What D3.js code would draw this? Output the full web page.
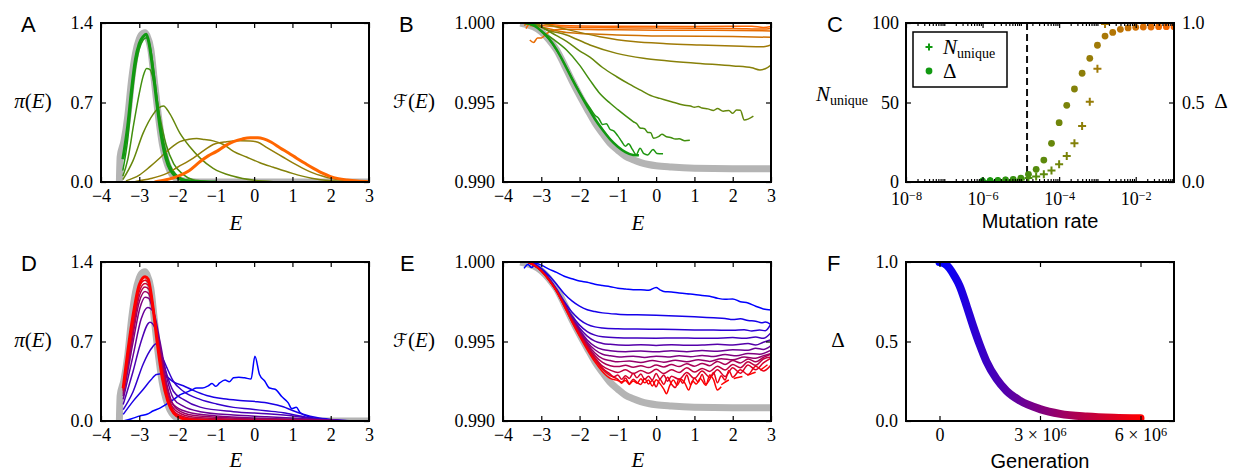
<!DOCTYPE html>
<html><head><meta charset="utf-8">
<script src="https://cdn.jsdelivr.net/npm/d3@7"></script>
<style>body{margin:0;background:#fff;}svg{display:block;}</style>
</head><body>
<svg id="fig" width="1233" height="472"></svg>
<script>
// ---------------- DATA ----------------
const energyTicks = [-4,-3,-2,-1,0,1,2,3];
const piTicks = [0.0,0.7,1.4];
const fitTicks = [0.990,0.995,1.000];
const nUniqueTicks = [0,50,100];
const deltaTicks = [0.0,0.5,1.0];
const muMajorTicks = [1e-8,1e-6,1e-4,1e-2];
const genTicks = [0,3e6,6e6];

// Panel A: pi(E) for increasing mutation rate
const piTheory = [[-3.52,0],[-3.5,0.22],[-3.4,0.36],[-3.3,0.58],[-3.2,0.9],[-3.1,1.13],[-3.0,1.26],[-2.9,1.31],[-2.85,1.315],[-2.8,1.29],[-2.7,1.17],[-2.6,0.87],[-2.5,0.58],[-2.4,0.34],[-2.3,0.19],[-2.2,0.1],[-2.1,0.05],[-2.0,0.025],[-1.8,0.006],[-1.5,0.001],[-1.0,0],[3.0,0]];
const piMutLow = [[-3.43,0.2],[-3.3,0.5],[-3.2,0.82],[-3.1,1.08],[-3.0,1.22],[-2.9,1.28],[-2.82,1.3],[-2.75,1.23],[-2.65,1.0],[-2.55,0.72],[-2.45,0.46],[-2.35,0.27],[-2.25,0.15],[-2.1,0.065],[-1.95,0.028],[-1.7,0.008],[-1.4,0.002],[-1.0,0]];
const piMut1 = [[-3.43,0.1],[-3.3,0.38],[-3.2,0.72],[-3.1,1.0],[-3.0,1.17],[-2.9,1.25],[-2.82,1.27],[-2.72,1.2],[-2.6,0.92],[-2.5,0.64],[-2.4,0.42],[-2.3,0.26],[-2.2,0.15],[-2.05,0.07],[-1.8,0.02],[-1.5,0.005],[-1.0,0]];
const piMut2 = [[-3.43,0.05],[-3.3,0.2],[-3.15,0.5],[-3.0,0.78],[-2.9,0.93],[-2.81,1.0],[-2.72,0.99],[-2.6,0.85],[-2.46,0.57],[-2.3,0.33],[-2.1,0.16],[-1.85,0.065],[-1.6,0.02],[-1.2,0.005],[-0.8,0]];
const piMut3 = [[-3.43,0.02],[-3.16,0.19],[-2.9,0.43],[-2.63,0.6],[-2.5,0.65],[-2.37,0.67],[-2.2,0.6],[-1.94,0.43],[-1.68,0.31],[-1.41,0.21],[-1.07,0.12],[-0.54,0.05],[0,0.015],[0.5,0.003],[1,0]];
const piMut4 = [[-3.35,0.01],[-3.0,0.06],[-2.72,0.135],[-2.5,0.2],[-2.28,0.27],[-2.1,0.32],[-1.94,0.355],[-1.7,0.376],[-1.5,0.382],[-1.3,0.374],[-1.07,0.362],[-0.8,0.33],[-0.54,0.27],[-0.2,0.22],[0.15,0.17],[0.5,0.13],[1.0,0.076],[1.5,0.033],[2.0,0.01],[2.5,0.002],[3,0]];
const piMut5 = [[-3.1,0.005],[-2.7,0.03],[-2.28,0.076],[-2.0,0.13],[-1.59,0.21],[-1.3,0.28],[-1.07,0.33],[-0.72,0.355],[-0.37,0.364],[-0.1,0.362],[0.1,0.35],[0.3,0.31],[0.5,0.27],[0.75,0.22],[1.0,0.17],[1.25,0.125],[1.5,0.085],[1.8,0.05],[2.0,0.032],[2.4,0.012],[3.0,0.001]];
const piMutHigh = [[-2.6,0.0],[-2.3,0.02],[-2.0,0.05],[-1.7,0.1],[-1.41,0.18],[-1.2,0.23],[-0.98,0.27],[-0.75,0.32],[-0.54,0.355],[-0.3,0.38],[-0.1,0.39],[0.1,0.39],[0.25,0.38],[0.45,0.35],[0.68,0.3],[0.9,0.255],[1.11,0.21],[1.35,0.16],[1.55,0.12],[1.8,0.075],[1.98,0.05],[2.2,0.03],[2.42,0.018],[2.7,0.008],[3.0,0.003]];

// Panel B: F(E) for increasing mutation rate
const fitTheory = [[-3.55,1.0],[-3.4,0.99992],[-3.2,0.99975],[-3.0,0.99945],[-2.8,0.99895],[-2.6,0.9983],[-2.4,0.99737],[-2.2,0.99638],[-2.0,0.99545],[-1.8,0.99458],[-1.6,0.99374],[-1.4,0.99305],[-1.2,0.99243],[-1.0,0.992],[-0.8,0.99162],[-0.6,0.9914],[-0.4,0.99122],[-0.2,0.9911],[0,0.99102],[0.4,0.99094],[1.0,0.99087],[2.0,0.99084],[3.0,0.99084]];
const fitMutLow = [[-3.43,1.0],[-3.2,0.99985],[-3.0,0.9995],[-2.8,0.99902],[-2.6,0.99832],[-2.4,0.99745],[-2.2,0.9965],[-2.0,0.9956],[-1.8,0.99476],[-1.6,0.99396],[-1.4,0.99328],[-1.2,0.99268],[-1.0,0.99222],[-0.8,0.99188],[-0.6,0.9917],[-0.45,0.99168]];
const fitMut1 = [[-3.3,1.0],[-3.1,0.9997],[-2.9,0.99925],[-2.7,0.99865],[-2.5,0.9979],[-2.3,0.997],[-2.1,0.9961],[-1.9,0.99525],[-1.7,0.99455],[-1.6,0.9942],[-1.5,0.994],[-1.4,0.99362],[-1.3,0.99366],[-1.2,0.9933],[-1.1,0.9932],[-1.0,0.9929],[-0.9,0.99255],[-0.8,0.99225],[-0.72,0.9924],[-0.62,0.99205],[-0.52,0.99172],[-0.42,0.99212],[-0.32,0.99178],[-0.22,0.9917],[-0.08,0.99205],[0.02,0.9918],[0.18,0.99178]];
const fitMut2 = [[-3.2,1.0],[-3.03,0.99956],[-2.7,0.999],[-2.34,0.9983],[-2.0,0.99735],[-1.73,0.99641],[-1.5,0.99565],[-1.2,0.99495],[-1.0,0.99455],[-0.77,0.99411],[-0.6,0.9938],[-0.5,0.99365],[-0.42,0.9934],[-0.3,0.99335],[-0.22,0.99312],[-0.14,0.9931],[-0.07,0.99275],[0.06,0.99285],[0.15,0.993],[0.27,0.99285],[0.4,0.99278],[0.5,0.9927],[0.6,0.99272],[0.75,0.9926],[0.88,0.99262]];
const fitMut3 = [[-3.2,1.0],[-3.0,0.99975],[-2.6,0.9992],[-2.34,0.99885],[-2.0,0.99825],[-1.73,0.99785],[-1.4,0.9972],[-1.03,0.99662],[-0.7,0.99615],[-0.42,0.99579],[-0.1,0.9954],[0.1,0.99526],[0.4,0.99505],[0.71,0.99484],[0.9,0.99478],[1.0,0.9947],[1.1,0.99475],[1.2,0.99465],[1.35,0.9946],[1.5,0.9945],[1.6,0.99462],[1.75,0.99445],[1.9,0.9945],[2.0,0.99432],[2.1,0.99453],[2.2,0.99452],[2.3,0.9939],[2.54,0.99415]];
const fitMut4 = [[-3.1,1.0],[-2.95,0.9997],[-2.34,0.99925],[-1.73,0.99862],[-1.03,0.99809],[-0.33,0.99778],[0.27,0.99763],[1.15,0.99746],[2.02,0.9973],[2.5,0.99718],[2.71,0.99705],[2.85,0.99712],[3.0,0.99736]];
const fitMut5 = [[-3.0,1.0],[-2.34,0.9996],[-1.47,0.99914],[-0.6,0.99883],[0.27,0.9987],[1.15,0.99862],[2.02,0.99855],[2.7,0.9985],[2.85,0.99852],[3.0,0.99862]];
const fitMut6 = [[-3.3,0.99985],[-3.0,0.99975],[-2.34,0.9994],[-1.03,0.99925],[0.27,0.99918],[2.0,0.99915],[3.0,0.9991]];
const fitMut7 = [[-3.3,0.99893],[-3.2,0.99878],[-3.1,0.99905],[-3.0,0.99905],[-2.9,0.99925],[-2.75,0.9995],[-2.5,0.9996],[-1.5,0.99958],[0,0.99955],[1.5,0.99954],[3.0,0.9995]];
const fitMut8 = [[-3.45,0.99985],[-3.3,1.0],[-3.0,0.99985],[-2.0,0.99972],[0,0.99968],[2.0,0.99966],[2.8,0.99962],[3.0,0.99966]];
const fitMutHigh = [[-3.4,0.99965],[-3.3,0.99995],[-3.15,1.0],[-2.5,0.99985],[-1.0,0.9998],[1.0,0.99978],[2.5,0.9998],[2.8,0.99972],[3.0,0.99978]];

// Panel C: vs mutation rate
const mutationRate = [1e-6,1.58e-6,2.51e-6,3.98e-6,6.31e-6,1e-5,1.58e-5,2.51e-5,3.98e-5,6.31e-5,1e-4,1.58e-4,2.51e-4,3.98e-4,6.31e-4,1e-3,1.58e-3,2.51e-3,3.98e-3,6.31e-3,1e-2,1.58e-2,2.51e-2,3.98e-2,6.31e-2,1e-1];
const deltaVsMu = [0.006,0.008,0.0105,0.0126,0.017,0.025,0.048,0.08,0.138,0.243,0.373,0.482,0.585,0.684,0.778,0.86,0.918,0.941,0.96,0.969,0.973,0.975,0.975,0.977,0.977,0.977];
const nUniqueVsMu = [0.4,0.4,0.6,0.8,1.0,1.5,2.5,3.4,4.8,7.3,11.1,16.4,24.3,35.2,50.5,71.3,99.4];
const muThreshold = 1.45e-5;

// Panel D: pi(E) over generations
const piGen0 = [[-3.42,0.0],[-3.2,0.02],[-2.98,0.045],[-2.8,0.06],[-2.63,0.09],[-2.45,0.115],[-2.28,0.15],[-2.1,0.19],[-1.94,0.23],[-1.8,0.25],[-1.65,0.27],[-1.5,0.29],[-1.35,0.29],[-1.2,0.31],[-1.1,0.33],[-1.0,0.305],[-0.9,0.335],[-0.76,0.36],[-0.65,0.345],[-0.54,0.38],[-0.4,0.385],[-0.25,0.38],[-0.08,0.37],[0.02,0.57],[0.14,0.41],[0.28,0.35],[0.4,0.29],[0.55,0.28],[0.72,0.215],[0.89,0.16],[0.98,0.11],[1.1,0.12],[1.2,0.075],[1.45,0.035],[1.8,0.012],[2.3,0.0]];
const piGen1 = [[-3.42,0.058],[-3.16,0.175],[-2.9,0.277],[-2.7,0.36],[-2.55,0.41],[-2.4,0.415],[-2.28,0.39],[-2.11,0.345],[-1.85,0.31],[-1.59,0.27],[-1.24,0.225],[-0.8,0.195],[-0.37,0.18],[0.07,0.17],[0.41,0.155],[0.76,0.125],[1.02,0.09],[1.28,0.06],[1.63,0.03],[2.07,0.012],[2.6,0.0]];
const piGen2 = [[-3.42,0.1],[-3.16,0.26],[-2.9,0.5],[-2.68,0.64],[-2.56,0.68],[-2.46,0.61],[-2.28,0.47],[-2.11,0.35],[-1.85,0.262],[-1.41,0.19],[-0.98,0.15],[-0.54,0.12],[-0.1,0.105],[0.3,0.09],[0.76,0.073],[1.2,0.044],[1.6,0.02],[2.2,0.006],[2.9,0.0]];
const piGen3 = [[-3.42,0.146],[-3.16,0.44],[-2.98,0.67],[-2.72,0.87],[-2.59,0.82],[-2.46,0.64],[-2.28,0.41],[-2.11,0.262],[-1.85,0.19],[-1.41,0.122],[-0.54,0.082],[0.33,0.064],[1.02,0.044],[1.63,0.015],[2.5,0.0]];
const piGen4 = [[-3.42,0.19],[-3.16,0.58],[-2.95,0.9],[-2.78,1.0],[-2.63,0.96],[-2.46,0.7],[-2.28,0.38],[-2.11,0.2],[-1.85,0.13],[-1.41,0.082],[-0.54,0.052],[0.33,0.038],[1.2,0.023],[2.07,0.006],[2.9,0.0]];
const piGen5 = [[-3.42,0.22],[-3.16,0.7],[-2.98,1.0],[-2.85,1.09],[-2.75,1.08],[-2.63,0.95],[-2.46,0.66],[-2.28,0.32],[-2.11,0.146],[-1.76,0.082],[-0.98,0.044],[0.33,0.023],[1.63,0.009],[2.5,0.0]];
const piGen6 = [[-3.42,0.24],[-3.2,0.68],[-3.0,1.05],[-2.85,1.14],[-2.75,1.12],[-2.63,0.95],[-2.5,0.7],[-2.35,0.42],[-2.2,0.2],[-2.0,0.1],[-1.6,0.05],[-0.5,0.025],[1.0,0.012],[2.2,0.003]];
const piGen7 = [[-3.42,0.26],[-3.2,0.72],[-3.0,1.1],[-2.85,1.18],[-2.75,1.16],[-2.63,0.97],[-2.5,0.68],[-2.35,0.38],[-2.2,0.17],[-2.0,0.08],[-1.6,0.035],[-0.5,0.015],[1.0,0.008],[2.0,0.002]];
const piGen8 = [[-3.42,0.27],[-3.2,0.76],[-3.0,1.14],[-2.85,1.21],[-2.75,1.19],[-2.63,0.98],[-2.5,0.66],[-2.35,0.35],[-2.2,0.15],[-2.0,0.06],[-1.6,0.022],[-0.5,0.008],[1.0,0.004]];
const piGen9 = [[-3.42,0.28],[-3.2,0.8],[-3.0,1.18],[-2.85,1.24],[-2.75,1.21],[-2.63,0.99],[-2.5,0.64],[-2.35,0.32],[-2.2,0.13],[-2.0,0.045],[-1.6,0.012],[-0.5,0.004]];
const piGen10 = [[-3.42,0.29],[-3.2,0.85],[-3.0,1.2],[-2.85,1.27],[-2.77,1.25],[-2.65,1.02],[-2.52,0.66],[-2.4,0.38],[-2.25,0.17],[-2.1,0.07],[-1.9,0.025],[-1.6,0.006],[-1.2,0.0]];

// Panel E: F(E) over generations
const fitGen0 = [[-3.45,0.9996],[-3.35,0.99985],[-3.25,0.99965],[-3.15,0.99992],[-3.0,0.9998],[-2.8,0.99955],[-2.6,0.99935],[-2.4,0.9991],[-2.2,0.99895],[-2.0,0.9988],[-1.8,0.99872],[-1.6,0.9986],[-1.4,0.99852],[-1.2,0.99845],[-1.0,0.99835],[-0.8,0.9983],[-0.6,0.99825],[-0.4,0.99826],[-0.2,0.99822],[0.0,0.9984],[0.1,0.99825],[0.2,0.99815],[0.4,0.99812],[0.6,0.99805],[0.8,0.998],[1.0,0.99796],[1.2,0.9979],[1.4,0.99785],[1.6,0.99772],[1.8,0.99765],[2.0,0.99768],[2.2,0.9975],[2.4,0.99742],[2.6,0.99722],[2.8,0.99705],[3.0,0.99698]];
const fitGen1 = [[-3.2,0.99995],[-3.0,0.9996],[-2.8,0.99915],[-2.6,0.9986],[-2.4,0.998],[-2.2,0.99755],[-2.0,0.99722],[-1.8,0.997],[-1.6,0.99688],[-1.4,0.9968],[-1.0,0.99672],[-0.5,0.99668],[0,0.99665],[0.5,0.99661],[1.0,0.99656],[1.5,0.99649],[1.8,0.99645],[2.0,0.99638],[2.2,0.99643],[2.4,0.99632],[2.6,0.99628],[2.75,0.99618],[2.85,0.99622],[3.0,0.99606]];
const fitGen2 = [[-3.3,1.0],[-3.0,0.99955],[-2.8,0.999],[-2.6,0.9983],[-2.4,0.99752],[-2.2,0.99685],[-2.0,0.99638],[-1.8,0.99608],[-1.6,0.99592],[-1.4,0.99585],[-1.0,0.9958],[-0.5,0.99578],[0,0.99577],[0.5,0.99576],[1.0,0.99573],[1.5,0.99572],[2.0,0.9957],[2.3,0.99574],[2.5,0.99566],[2.7,0.99572],[2.85,0.99568],[3.0,0.99612]];
const fitGen3 = [[-3.3,1.0],[-3.0,0.9995],[-2.8,0.99895],[-2.6,0.99822],[-2.4,0.9974],[-2.2,0.99662],[-2.0,0.99603],[-1.8,0.99562],[-1.6,0.9954],[-1.4,0.9953],[-1.0,0.99524],[-0.5,0.99522],[0,0.99521],[0.5,0.99522],[1.0,0.99521],[1.5,0.9952],[2.0,0.99525],[2.3,0.9952],[2.6,0.99528],[2.8,0.9952],[3.0,0.99555]];
const fitGen4 = [[-3.35,1.0],[-3.0,0.99948],[-2.8,0.99893],[-2.6,0.99822],[-2.4,0.99738],[-2.2,0.99652],[-2.0,0.99585],[-1.8,0.99534],[-1.6,0.99502],[-1.4,0.99488],[-1.2,0.99482],[-0.8,0.99476],[-0.4,0.9948],[0,0.99475],[0.4,0.9948],[0.8,0.99476],[1.2,0.99478],[1.6,0.99482],[2.0,0.99478],[2.4,0.99488],[2.6,0.99478],[2.8,0.99495],[3.0,0.99512]];
const fitGen5 = [[-3.35,1.0],[-3.0,0.99947],[-2.8,0.99892],[-2.6,0.99822],[-2.4,0.99736],[-2.2,0.99648],[-2.0,0.99572],[-1.8,0.9951],[-1.6,0.9947],[-1.4,0.9945],[-1.2,0.99442],[-0.8,0.99436],[-0.4,0.9944],[0,0.99435],[0.4,0.99442],[0.8,0.99436],[1.2,0.99443],[1.6,0.99438],[2.0,0.99448],[2.4,0.99445],[2.6,0.99458],[2.8,0.9945],[3.0,0.99475]];
const fitGen6 = [[-3.35,1.0],[-3.0,0.99946],[-2.8,0.99891],[-2.6,0.99821],[-2.4,0.99734],[-2.2,0.99644],[-2.0,0.99565],[-1.8,0.99495],[-1.6,0.99448],[-1.4,0.9942],[-1.2,0.9941],[-0.9,0.99402],[-0.6,0.99408],[-0.3,0.994],[0,0.99408],[0.3,0.99402],[0.6,0.9941],[0.9,0.99404],[1.2,0.99412],[1.5,0.99405],[1.8,0.99418],[2.1,0.9941],[2.4,0.99425],[2.7,0.9942],[3.0,0.99445]];
const fitGen7 = [[-3.35,1.0],[-3.0,0.99946],[-2.8,0.9989],[-2.6,0.9982],[-2.4,0.99732],[-2.2,0.9964],[-2.0,0.99558],[-1.8,0.99485],[-1.6,0.99428],[-1.4,0.99392],[-1.2,0.9938],[-1.0,0.99372],[-0.7,0.99378],[-0.4,0.99368],[-0.1,0.9938],[0.2,0.9937],[0.5,0.99382],[0.8,0.99372],[1.1,0.99385],[1.4,0.99375],[1.7,0.99392],[2.0,0.99385],[2.3,0.99402],[2.6,0.99395],[2.8,0.9941],[3.0,0.99425]];
const fitGen8 = [[-3.35,1.0],[-3.0,0.99945],[-2.8,0.99889],[-2.6,0.99819],[-2.4,0.9973],[-2.2,0.99636],[-2.0,0.99552],[-1.8,0.99475],[-1.6,0.99412],[-1.4,0.99368],[-1.2,0.99348],[-1.0,0.99342],[-0.8,0.9935],[-0.6,0.99338],[-0.4,0.99348],[-0.2,0.99336],[0,0.99352],[0.2,0.9934],[0.4,0.99355],[0.6,0.99342],[0.8,0.9936],[1.0,0.99345],[1.2,0.99362],[1.4,0.99348],[1.6,0.99375],[1.8,0.99355],[2.0,0.9938],[2.2,0.99365],[2.4,0.9939],[2.6,0.99372],[2.8,0.994],[3.0,0.9942]];
const fitGen9 = [[-3.35,1.0],[-3.0,0.99945],[-2.8,0.99888],[-2.6,0.99818],[-2.4,0.99728],[-2.2,0.99633],[-2.0,0.99548],[-1.8,0.99468],[-1.6,0.99398],[-1.4,0.99345],[-1.2,0.9932],[-1.0,0.99305],[-0.8,0.99322],[-0.6,0.99298],[-0.4,0.99318],[-0.2,0.993],[0,0.99325],[0.2,0.99298],[0.4,0.99322],[0.6,0.99305],[0.8,0.99335],[1.0,0.99308],[1.2,0.9933],[1.4,0.99312],[1.6,0.99345],[1.8,0.9932],[2.0,0.99355],[2.2,0.99335],[2.4,0.99372],[2.6,0.9935],[2.8,0.9939],[3.0,0.99402]];
const fitGen10 = [[-3.35,1.0],[-3.0,0.99944],[-2.8,0.99887],[-2.6,0.99817],[-2.4,0.99726],[-2.2,0.9963],[-2.0,0.99542],[-1.8,0.99462],[-1.6,0.9939],[-1.4,0.99332],[-1.2,0.99295],[-1.1,0.99278],[-1.0,0.9929],[-0.9,0.99262],[-0.8,0.99285],[-0.7,0.99268],[-0.6,0.993],[-0.5,0.99272],[-0.4,0.99295],[-0.3,0.99262],[-0.2,0.99282],[-0.1,0.99258],[0,0.99298],[0.1,0.99265],[0.2,0.9929],[0.3,0.9925],[0.4,0.99282],[0.6,0.99262],[0.8,0.99305],[1.0,0.99268],[1.2,0.99315],[1.4,0.99275],[1.6,0.99322],[1.8,0.9928],[2.0,0.99335],[2.2,0.993],[2.4,0.99352],[2.6,0.99322],[2.8,0.99365],[3.0,0.99395]];
const fitGen11 = [[-3.35,1.0],[-3.0,0.99944],[-2.8,0.99886],[-2.6,0.99816],[-2.4,0.99724],[-2.2,0.99627],[-2.0,0.99538],[-1.8,0.99458],[-1.6,0.99385],[-1.4,0.99325],[-1.2,0.99285],[-1.0,0.99262],[-0.9,0.99238],[-0.8,0.9927],[-0.7,0.99235],[-0.6,0.99262],[-0.5,0.99242],[-0.4,0.9923],[-0.3,0.99268],[-0.2,0.99232],[-0.1,0.99255],[0,0.99215],[0.1,0.99262],[0.2,0.9923],[0.3,0.99275],[0.4,0.99232],[0.5,0.9921],[0.6,0.99265],[0.7,0.99238],[0.8,0.9929],[0.9,0.99228],[1.0,0.9927],[1.1,0.99245],[1.2,0.99292],[1.3,0.99232],[1.4,0.99262],[1.5,0.99305],[1.6,0.9924],[1.7,0.99285],[1.8,0.99258],[1.9,0.99318],[2.0,0.99275],[2.2,0.99322],[2.4,0.99292],[2.6,0.99345],[2.8,0.99315],[3.0,0.99352]];
const fitGen12 = [[-3.35,1.0],[-3.2,0.99985],[-3.0,0.99943],[-2.8,0.99885],[-2.6,0.99814],[-2.4,0.99721],[-2.2,0.99623],[-2.0,0.99532],[-1.8,0.99448],[-1.6,0.99372],[-1.4,0.9931],[-1.2,0.99268],[-1.0,0.99255],[-0.9,0.99245],[-0.8,0.99255],[-0.7,0.9923],[-0.6,0.99252],[-0.5,0.99238],[-0.4,0.99265],[-0.3,0.9924],[-0.2,0.99258],[-0.1,0.9922],[0,0.9926],[0.1,0.99235],[0.2,0.992],[0.27,0.99172],[0.35,0.9922],[0.45,0.99258],[0.55,0.99225],[0.65,0.99262],[0.75,0.99238],[0.85,0.99195],[0.95,0.99252],[1.05,0.99232],[1.15,0.99268],[1.3,0.99225],[1.4,0.9929],[1.5,0.9926],[1.6,0.99195],[1.7,0.99215]];
const fitGenLast = [[1.7,0.99228],[1.9,0.99258],[2.1,0.99272],[2.3,0.99282],[2.5,0.99298],[2.7,0.99318],[2.9,0.99352],[3.0,0.99372]];

// Panel F: Delta vs generation
const generation = [0,0.15e6,0.3e6,0.45e6,0.6e6,0.8e6,1.0e6,1.2e6,1.4e6,1.7e6,2.0e6,2.4e6,3.0e6,3.6e6,4.4e6,5.2e6,6.0e6];
const deltaVsGen = [1.0,0.99,0.96,0.91,0.85,0.73,0.6,0.48,0.375,0.265,0.19,0.128,0.075,0.045,0.028,0.02,0.017];

// ---------------- DRAWING ----------------
const svg = d3.select('#fig');
const W = 268, H = 159;
const SERIF = '"Liberation Serif","Times New Roman",serif';
const SANS = '"Liberation Sans",Arial,sans-serif';
const GRAY = '#b4b4b4';
const TICK_FS = 18;
const greenOrange = d3.interpolateRgb('#119911', '#ff6600');
const blueRed = d3.interpolateRgb('#0000ff', '#ff0000');
let clipN = 0;

function makePanel(left, top) {
  const g = svg.append('g').attr('transform', `translate(${left},${top})`);
  const id = 'clip' + (clipN++);
  g.append('clipPath').attr('id', id).append('rect').attr('width', W).attr('height', H);
  const plot = g.append('g').attr('clip-path', `url(#${id})`);
  return {g, plot};
}
function styleAxis(sel) {
  sel.select('.domain').remove();
  sel.attr('font-family', SERIF).attr('font-size', TICK_FS);
  sel.selectAll('.tick line').attr('stroke', '#000').attr('stroke-width', 1.2);
  sel.selectAll('.tick text').attr('fill', '#000');
}
function axes(g, x, y, xt, yt, xfmt, yfmt, yR, rt, rfmt, padB, padL) {
  const none = () => '';
  const b = g.append('g').attr('transform', `translate(0,${H})`)
    .call(d3.axisBottom(x).tickValues(xt).tickSize(-5).tickPadding(padB || 7).tickFormat(xfmt)).call(styleAxis);
  g.append('g').call(d3.axisTop(x).tickValues(xt).tickSize(-5).tickFormat(none)).call(styleAxis);
  g.append('g').call(d3.axisLeft(y).tickValues(yt).tickSize(-5).tickPadding(padL || 8).tickFormat(yfmt)).call(styleAxis);
  g.append('g').attr('transform', `translate(${W},0)`)
    .call(d3.axisRight(yR || y).tickValues(rt || yt).tickSize(-5).tickPadding(8).tickFormat(rfmt || none)).call(styleAxis);
  g.append('rect').attr('width', W).attr('height', H).attr('fill', 'none').attr('stroke', '#000').attr('stroke-width', 2);
  return b;
}
function drawLine(plot, data, x, y, color, width, dash) {
  const line = d3.line().x(d => x(d[0])).y(d => y(d[1])).curve(d3.curveMonotoneX);
  const p = plot.append('path').datum(data).attr('d', line).attr('fill', 'none')
    .attr('stroke', color).attr('stroke-width', width).attr('stroke-linejoin', 'round');
  if (dash) p.attr('stroke-dasharray', dash);
  return p;
}
function letter(txt, x, y) {
  svg.append('text').attr('x', x).attr('y', y).attr('font-family', SANS).attr('font-size', 22).text(txt);
}
function mathLabel(x, y, parts, anchor) {
  const t = svg.append('text').attr('x', x).attr('y', y).attr('font-family', SERIF).attr('font-size', 21)
    .attr('text-anchor', anchor || 'middle');
  parts.forEach(p => {
    const s = t.append('tspan').text(p.t);
    if (p.i) s.attr('font-style', 'italic');
    if (p.f) s.attr('font-family', p.f);
    if (p.s) s.attr('font-size', p.s);
    if (p.dy) s.attr('dy', p.dy);
  });
  return t;
}
const fmtInt = d3.format('d');
const fmt1 = d3.format('.1f');
const fmt3 = d3.format('.3f');

// ----- Panel A -----
{
  const {g, plot} = makePanel(101, 23);
  const x = d3.scaleLinear().domain([-4, 3]).range([0, W]);
  const y = d3.scaleLinear().domain([0, 1.4]).range([H, 0]);
  drawLine(plot, piTheory, x, y, GRAY, 7);
  [[piMut1, 0.05], [piMut2, 0.2], [piMut3, 0.35], [piMut4, 0.48], [piMut5, 0.55]]
    .forEach(([d, t]) => drawLine(plot, d, x, y, greenOrange(t), 1.5));
  drawLine(plot, piMutLow, x, y, greenOrange(0), 3);
  drawLine(plot, piMutHigh, x, y, greenOrange(1), 3);
  axes(g, x, y, energyTicks, piTicks, fmtInt, fmt1);
}
// ----- Panel B -----
{
  const {g, plot} = makePanel(503, 23);
  const x = d3.scaleLinear().domain([-4, 3]).range([0, W]);
  const y = d3.scaleLinear().domain([0.990, 1.000]).range([H, 0]);
  drawLine(plot, fitTheory, x, y, GRAY, 7);
  [[fitMutHigh, 1], [fitMut8, 0.95], [fitMut7, 0.9], [fitMut6, 0.8], [fitMut5, 0.6], [fitMut4, 0.5], [fitMut3, 0.35], [fitMut2, 0.2], [fitMut1, 0.05]]
    .forEach(([d, t]) => drawLine(plot, d, x, y, greenOrange(t), 1.5));
  drawLine(plot, fitMutLow, x, y, greenOrange(0), 2.5);
  axes(g, x, y, energyTicks, fitTicks, fmtInt, fmt3);
}
// ----- Panel C -----
{
  const {g, plot} = makePanel(906, 23);
  const x = d3.scaleLog().domain([1e-8, 1e-1]).range([0, W]);
  const yN = d3.scaleLinear().domain([0, 100]).range([H, 0]);
  const yD = d3.scaleLinear().domain([0, 1]).range([H, 0]);
  plot.append('line').attr('x1', x(muThreshold)).attr('x2', x(muThreshold)).attr('y1', 0).attr('y2', H)
    .attr('stroke', '#111').attr('stroke-width', 2).attr('stroke-dasharray', '7,4');
  const n = mutationRate.length;
  plot.selectAll('circle.d').data(mutationRate).join('circle')
    .attr('cx', d => x(d)).attr('cy', (d, i) => yD(deltaVsMu[i])).attr('r', 3.4)
    .attr('fill', (d, i) => greenOrange(i / (n - 1)));
  plot.selectAll('path.n').data(nUniqueVsMu).join('path')
    .attr('transform', (d, i) => `translate(${x(mutationRate[i])},${yN(d)})`)
    .attr('d', 'M-4,0H4M0,-4V4').attr('stroke-width', 2)
    .attr('stroke', (d, i) => greenOrange(i / (n - 1)));
  const bAx = axes(g, x, yN, muMajorTicks, nUniqueTicks, () => '', fmtInt, yD, deltaTicks, fmt1, 10, 7);
  bAx.selectAll('.tick text').each(function(d) {
    const t = d3.select(this);
    t.append('tspan').text('10');
    t.append('tspan').attr('dy', '-0.4em').attr('font-size', '0.68em').text('\u2212' + Math.round(-Math.log10(d)));
  });
  // minor log ticks
  const minor = [];
  for (let e = -8; e < -1; e++) for (let k = 1; k <= 9; k++) {
    const v = k * Math.pow(10, e);
    if (!(k === 1 && e % 2 === 0)) minor.push(v);
  }
  g.append('g').attr('transform', `translate(0,${H})`).call(d3.axisBottom(x).tickValues(minor).tickSize(-3).tickFormat(() => '')).call(styleAxis);
  g.append('g').call(d3.axisTop(x).tickValues(minor).tickSize(-3).tickFormat(() => '')).call(styleAxis);
  // legend
  const lg = g.append('g').attr('transform', 'translate(7,9)');
  lg.append('rect').attr('width', 94).attr('height', 55).attr('fill', '#fff').attr('stroke', '#000').attr('stroke-width', 1.5);
  lg.append('path').attr('d', 'M-3.5,0H3.5M0,-3.5V3.5').attr('transform', 'translate(16,15)').attr('stroke', greenOrange(0)).attr('stroke-width', 2);
  lg.append('circle').attr('cx', 16).attr('cy', 39).attr('r', 3.4).attr('fill', greenOrange(0));
  const t1 = lg.append('text').attr('x', 30).attr('y', 22).attr('font-family', SERIF).attr('font-size', 21);
  t1.append('tspan').attr('font-style', 'italic').text('N');
  t1.append('tspan').attr('font-size', 14).attr('dy', 4).text('unique');
  lg.append('text').attr('x', 30).attr('y', 46).attr('font-family', SERIF).attr('font-size', 21).text('\u0394');
}
// ----- Panel D -----
{
  const {g, plot} = makePanel(101, 262);
  const x = d3.scaleLinear().domain([-4, 3]).range([0, W]);
  const y = d3.scaleLinear().domain([0, 1.4]).range([H, 0]);
  drawLine(plot, piTheory, x, y, GRAY, 7);
  const gens = [piGen0, piGen1, piGen2, piGen3, piGen4, piGen5, piGen6, piGen7, piGen8, piGen9];
  gens.forEach((d, i) => drawLine(plot, d, x, y, blueRed(i / 10), 1.5));
  drawLine(plot, piGen10, x, y, blueRed(1), 3);
  axes(g, x, y, energyTicks, piTicks, fmtInt, fmt1);
}
// ----- Panel E -----
{
  const {g, plot} = makePanel(503, 262);
  const x = d3.scaleLinear().domain([-4, 3]).range([0, W]);
  const y = d3.scaleLinear().domain([0.990, 1.000]).range([H, 0]);
  drawLine(plot, fitTheory, x, y, GRAY, 7);
  const gens = [fitGen0, fitGen1, fitGen2, fitGen3, fitGen4, fitGen5, fitGen6, fitGen7, fitGen8, fitGen9, fitGen10, fitGen11, fitGen12];
  gens.forEach((d, i) => drawLine(plot, d, x, y, blueRed(i / 12), 1.5));
  drawLine(plot, fitGenLast, x, y, blueRed(1), 1.5, '9,5');
  axes(g, x, y, energyTicks, fitTicks, fmtInt, fmt3);
}
// ----- Panel F -----
{
  const {g, plot} = makePanel(906, 262);
  const x = d3.scaleLinear().domain([-1e6, 7e6]).range([0, W]);
  const y = d3.scaleLinear().domain([0, 1]).range([H, 0]);
  const grad = g.append('linearGradient').attr('id', 'gradF').attr('gradientUnits', 'userSpaceOnUse')
    .attr('x1', x(generation[0])).attr('x2', x(generation[generation.length - 1])).attr('y1', 0).attr('y2', 0);
  [0, 0.25, 0.5, 0.75, 1].forEach(t => grad.append('stop').attr('offset', t).attr('stop-color', blueRed(t)));
  const pts = generation.map((gv, i) => [gv, deltaVsGen[i]]);
  drawLine(plot, pts, x, y, 'url(#gradF)', 8).attr('stroke-linecap', 'round');
  const bAx = axes(g, x, y, genTicks, deltaTicks, () => '', fmt1);
  bAx.selectAll('.tick text').each(function(d) {
    const t = d3.select(this);
    if (d === 0) { t.text('0'); return; }
    t.append('tspan').text((d / 1e6) + ' \u00d7 10');
    t.append('tspan').attr('dy', '-0.4em').attr('font-size', '0.68em').text('6');
  });
}

// ----- labels -----
letter('A', 21, 32); letter('B', 399, 32); letter('C', 827, 32);
letter('D', 21, 271); letter('E', 400, 271); letter('F', 827, 271);

mathLabel(33, 108, [{t: '\u03c0', i: 1}, {t: '('}, {t: 'E', i: 1}, {t: ')'}]);
mathLabel(33, 347, [{t: '\u03c0', i: 1}, {t: '('}, {t: 'E', i: 1}, {t: ')'}]);
mathLabel(414, 108, [{t: '\u2131', f: '"DejaVu Serif","DejaVu Sans",serif', s: 19}, {t: '('}, {t: 'E', i: 1}, {t: ')'}]);
mathLabel(414, 347, [{t: '\u2131', f: '"DejaVu Serif","DejaVu Sans",serif', s: 19}, {t: '('}, {t: 'E', i: 1}, {t: ')'}]);
mathLabel(868, 101, [{t: 'N', i: 1}, {t: 'unique', s: 14, dy: 4}], 'end');
mathLabel(1221, 108, [{t: '\u0394'}]);
mathLabel(838, 347, [{t: '\u0394'}]);
mathLabel(236, 230, [{t: 'E', i: 1}]);
mathLabel(638, 230, [{t: 'E', i: 1}]);
mathLabel(236, 467, [{t: 'E', i: 1}]);
mathLabel(638, 467, [{t: 'E', i: 1}]);
svg.append('text').attr('x', 1040).attr('y', 228).attr('text-anchor', 'middle').attr('font-family', SANS).attr('font-size', 20).text('Mutation rate');
svg.append('text').attr('x', 1040).attr('y', 468).attr('text-anchor', 'middle').attr('font-family', SANS).attr('font-size', 20).text('Generation');
</script>
</body></html>
